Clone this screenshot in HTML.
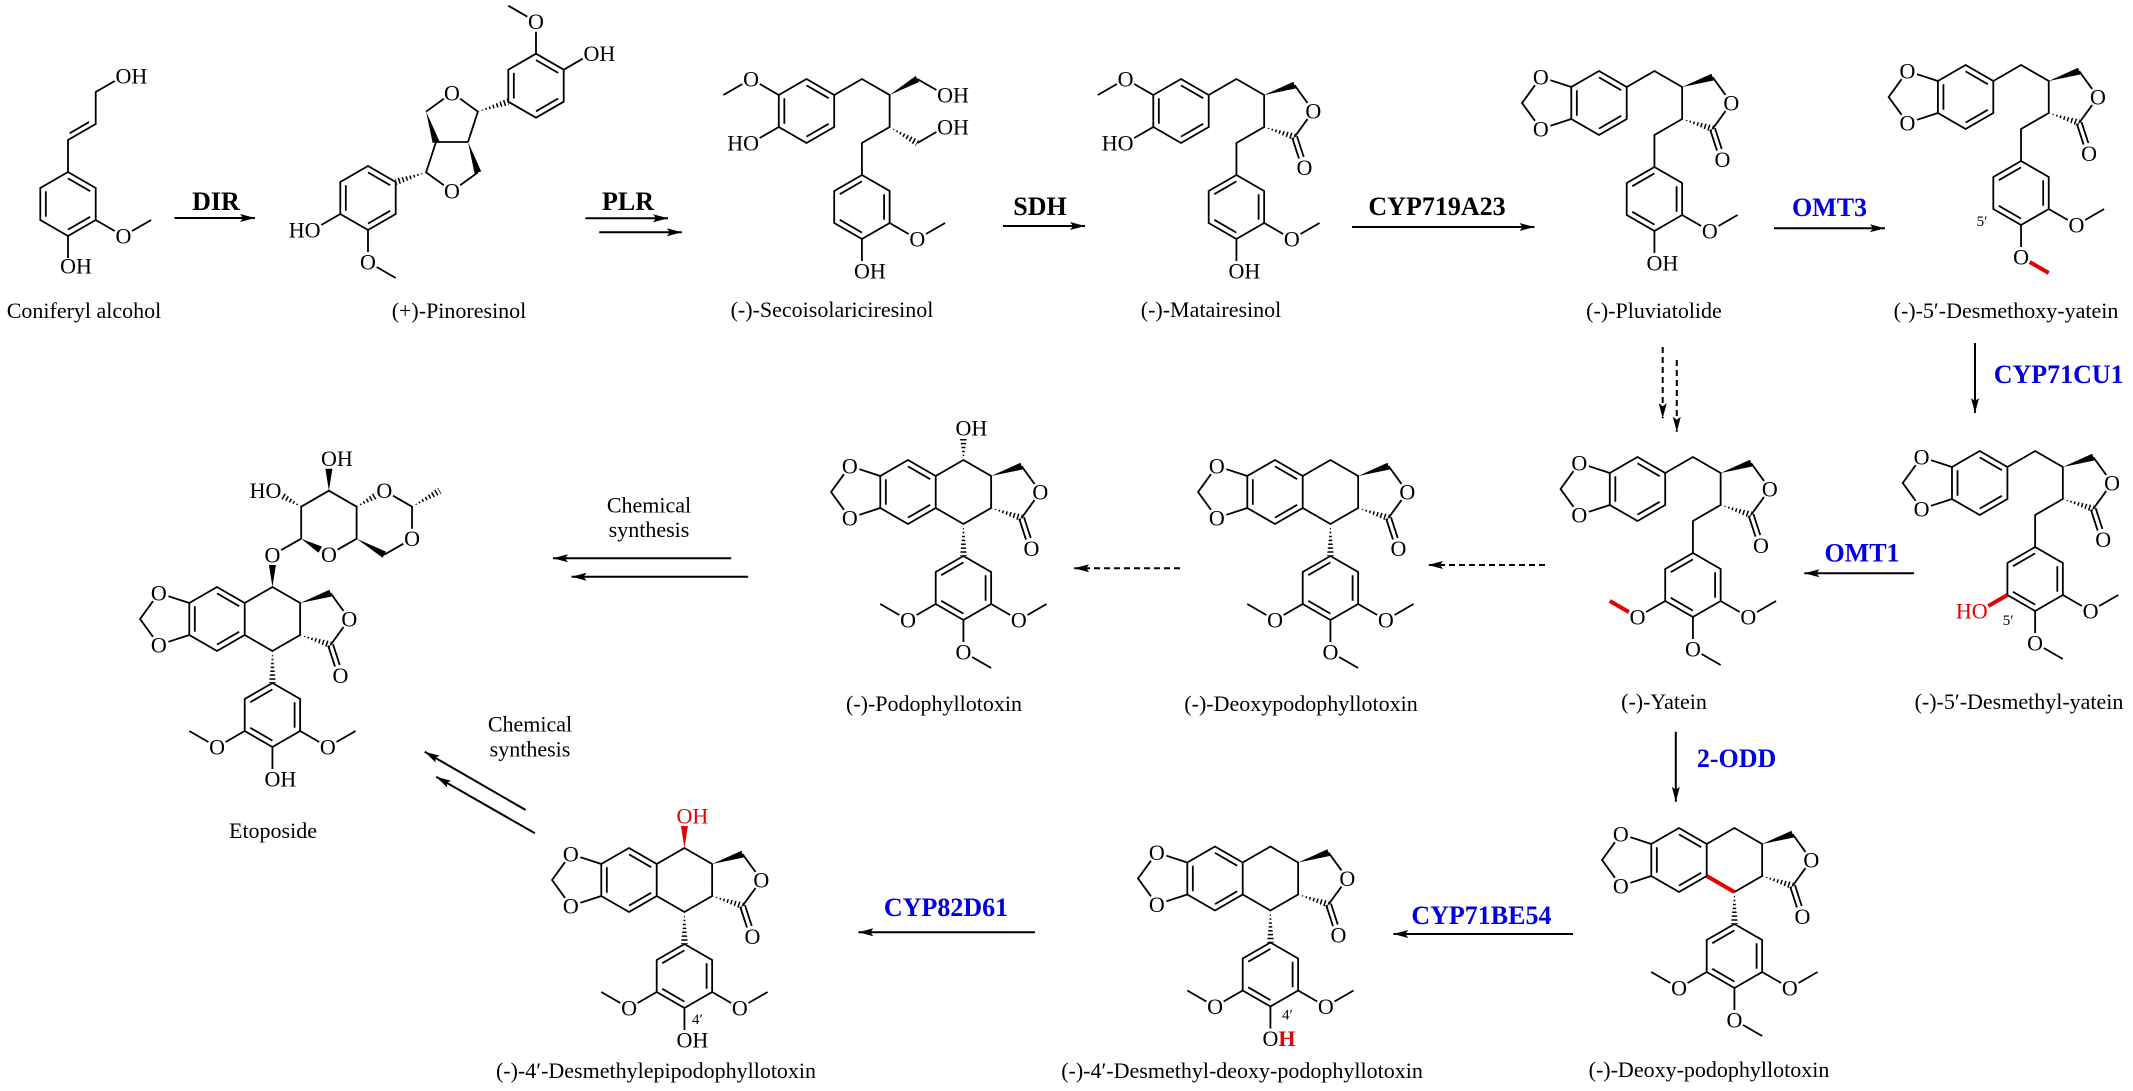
<!DOCTYPE html>
<html><head><meta charset="utf-8"><style>
html,body{margin:0;padding:0;background:#fff}
svg{display:block}
.b{stroke:#000;stroke-width:1.8;fill:none;stroke-linejoin:miter}
.r{stroke:#e60000;stroke-width:4;fill:none}
.h{stroke:#000;stroke-width:8;stroke-dasharray:1.5 2.4;fill:none}
.ar{stroke:#000;stroke-width:2;fill:none}
.ad{stroke:#000;stroke-width:2;fill:none;stroke-dasharray:6 4}
text{font-family:"Liberation Serif","Times New Roman",serif;font-size:22px;fill:#000}
.m{text-anchor:middle}
.e{text-anchor:end}
.en{font-weight:bold;font-size:26px}
.blue{fill:#0000e0}
.red{fill:#e60000}
.sm{font-size:15px}
</style></head><body>
<svg width="2133" height="1091" viewBox="0 0 2133 1091" xmlns="http://www.w3.org/2000/svg">
<defs>
<marker id="ah" markerUnits="userSpaceOnUse" markerWidth="16" markerHeight="10" refX="15" refY="4" orient="auto" overflow="visible"><path d="M0,0L15,4L0,8L3,4Z" fill="#000"/></marker>
<clipPath id="cL"><polygon points="83.14,16 112.49,29.22 114.65,22.56"/></clipPath>
<clipPath id="cV"><polygon points="55.43,32 51.93,64 58.93,64"/></clipPath>
<clipPath id="cO"><polygon points="55.43,-32 51.93,-54 58.93,-54"/></clipPath>
<clipPath id="cS"><polygon points="83.14,16 109.1,35.03 112.6,28.97"/></clipPath>
<clipPath id="cP1"><polygon points="426.1,172.4 396.79,185.33 394.63,178.67"/></clipPath>
<clipPath id="cP2"><polygon points="477.9,111.6 509.37,105.03 507.21,98.37"/></clipPath>
<clipPath id="cE1"><polygon points="139.61,-112.3 160.41,-120.27 156.91,-126.33"/></clipPath>
<clipPath id="cE2"><polygon points="195.03,-112.3 224.49,-125.27 220.99,-131.33"/></clipPath>
<clipPath id="cE3"><polygon points="84.19,-112.3 66.89,-126.33 63.39,-120.27"/></clipPath>
</defs>

<!-- ============ Coniferyl alcohol ============ -->
<path class="b" d="M68,172L95.71,188L95.71,220L68,236L40.29,220L40.29,188Z M68,178.4L90.17,191.2M45.83,191.2L45.83,216.8M90.17,216.8L68,229.6 M68,172L68,140L95.71,124L95.71,92L114.77,81 M69.66,133.27L89.05,122.07 M95.71,220L114.77,231M132.09,231L151.14,220 M68,236L68,258"/>
<text x="115.5" y="83.5">OH</text>
<text class="m" x="123.43" y="243.5">O</text>
<text x="60.1" y="273.5">OH</text>

<!-- ============ Pinoresinol ============ -->
<path class="b" d="M368,166L395.71,182L395.71,214L368,230L340.29,214L340.29,182Z M368,172.4L390.17,185.2M345.83,185.2L345.83,210.8M390.17,210.8L368,223.6 M340.29,214L321.24,225 M368,230L368,252M376.66,267L395.71,278"/>
<text class="e" x="320.5" y="237.5">HO</text><text class="m" x="368" y="269.5">O</text>
<path class="b" d="M436,142L468,142 M436,142L426.1,172.4L443.9,185.3M460.1,185.3L477.9,172.4 M426.1,111.6L443.9,98.7M460.1,98.7L477.9,111.6L468,142"/>
<polygon points="426.1,111.6 439.33,140.92 432.67,143.08"/>
<polygon points="468,142 481.23,171.32 474.57,173.48"/>
<line class="h" x1="426.1" y1="172.4" x2="395.71" y2="182" clip-path="url(#cP1)"/>
<line class="h" x1="477.9" y1="111.6" x2="508.29" y2="101.7" clip-path="url(#cP2)"/>
<text class="m" x="452" y="100.3">O</text><text class="m" x="452" y="198.7">O</text>
<path class="b" d="M536,53.7L563.71,69.7L563.71,101.7L536,117.7L508.29,101.7L508.29,69.7Z M536,60.1L558.17,72.9M513.83,72.9L513.83,98.5M558.17,98.5L536,111.3 M536,53.7L536,31.7M527.34,16.7L508.29,5.7 M563.71,69.7L582.76,58.7"/>
<text class="m" x="536" y="29.2">O</text><text x="583.5" y="61.2">OH</text>

<!-- ============ Secoisolariciresinol ============ -->
<g transform="translate(806.5,111)">
<path class="b" d="M0,-32L27.71,-16L27.71,16L0,32L-27.71,16L-27.71,-16Z M0,-25.6L22.17,-12.8M-22.17,-12.8L-22.17,12.8M22.17,12.8L0,25.6"/>
<path class="b" d="M-27.71,-16L-46.77,-27M-64.09,-27L-83.14,-16M-27.71,16L-46.77,27"/>
<text class="m" x="-55.43" y="-24.5">O</text><text class="e" x="-47.5" y="39.5">HO</text>
<path class="b" d="M27.71,-16L55.43,-32L83.14,-16L83.14,16L55.43,32L55.43,64"/>
<path class="b" d="M110.85,-32L129.9,-21M110.85,32L129.9,21"/>
<polygon points="83.14,-16 112.6,-28.97 109.1,-35.03"/>
<line class="h" x1="83.14" y1="16" x2="110.85" y2="32" clip-path="url(#cS)"/>
<text x="130.6" y="-8.5">OH</text><text x="130.6" y="23.5">OH</text>
<path class="b" d="M55.43,64L83.14,80L83.14,112L55.43,128L27.71,112L27.71,80Z M55.43,70.4L33.26,83.2M77.6,83.2L77.6,108.8M33.26,108.8L55.43,121.6"/>
<path class="b" d="M83.14,112L102.19,123M119.51,123L138.56,112"/><text class="m" x="110.85" y="135.5">O</text>
<path class="b" d="M55.43,128L55.43,150"/><text x="47.5" y="167.5">OH</text>
</g>

<!-- ============ Matairesinol ============ -->
<g transform="translate(1181,111)">
<path class="b" d="M0,-32L27.71,-16L27.71,16L0,32L-27.71,16L-27.71,-16Z M0,-25.6L22.17,-12.8M-22.17,-12.8L-22.17,12.8M22.17,12.8L0,25.6"/>
<path class="b" d="M-27.71,-16L-46.77,-27M-64.09,-27L-83.14,-16M-27.71,16L-46.77,27"/>
<text class="m" x="-55.43" y="-24.5">O</text><text class="e" x="-47.5" y="39.5">HO</text>
<path class="b" d="M27.71,-16L55.43,-32L83.14,-16L83.14,16L55.43,32L55.43,64"/>
<path class="b" d="M113.57,-25.89L126.5,-8.09M126.5,8.09L113.57,25.89M115.95,25.12L122.75,46.03M111.19,26.66L117.99,47.57"/>
<polygon points="83.14,-16 114.65,-22.56 112.49,-29.22"/>
<line class="h" x1="83.14" y1="16" x2="113.57" y2="25.89" clip-path="url(#cL)"/>
<text class="m" x="132.38" y="7.5">O</text><text class="m" x="123.46" y="63.8">O</text>
<path class="b" d="M55.43,64L83.14,80L83.14,112L55.43,128L27.71,112L27.71,80Z M55.43,70.4L33.26,83.2M77.6,83.2L77.6,108.8M33.26,108.8L55.43,121.6"/>
<path class="b" d="M83.14,112L102.19,123M119.51,123L138.56,112"/><text class="m" x="110.85" y="135.5">O</text>
<path class="b" d="M55.43,128L55.43,150"/><text x="47.5" y="167.5">OH</text>
</g>

<!-- ============ Pluviatolide ============ -->
<g transform="translate(1599,103)">
<path class="b" d="M0,-32L27.71,-16L27.71,16L0,32L-27.71,16L-27.71,-16Z M0,-25.6L22.17,-12.8M-22.17,-12.8L-22.17,12.8M22.17,12.8L0,25.6"/>
<path class="b" d="M-27.71,-16L-48.63,-22.8M-64.02,-17.8L-76.95,0L-64.02,17.8M-48.63,22.8L-27.71,16"/>
<text class="m" x="-58.14" y="-18.4">O</text><text class="m" x="-58.14" y="33.4">O</text>
<path class="b" d="M27.71,-16L55.43,-32L83.14,-16L83.14,16L55.43,32L55.43,64"/>
<path class="b" d="M113.57,-25.89L126.5,-8.09M126.5,8.09L113.57,25.89M115.95,25.12L122.75,46.03M111.19,26.66L117.99,47.57"/>
<polygon points="83.14,-16 114.65,-22.56 112.49,-29.22"/>
<line class="h" x1="83.14" y1="16" x2="113.57" y2="25.89" clip-path="url(#cL)"/>
<text class="m" x="132.38" y="7.5">O</text><text class="m" x="123.46" y="63.8">O</text>
<path class="b" d="M55.43,64L83.14,80L83.14,112L55.43,128L27.71,112L27.71,80Z M55.43,70.4L33.26,83.2M77.6,83.2L77.6,108.8M33.26,108.8L55.43,121.6"/>
<path class="b" d="M83.14,112L102.19,123M119.51,123L138.56,112"/><text class="m" x="110.85" y="135.5">O</text>
<path class="b" d="M55.43,128L55.43,150"/><text x="47.5" y="167.5">OH</text>
</g>

<!-- ============ 5'-Desmethoxy-yatein ============ -->
<g transform="translate(1965.6,97)">
<path class="b" d="M0,-32L27.71,-16L27.71,16L0,32L-27.71,16L-27.71,-16Z M0,-25.6L22.17,-12.8M-22.17,-12.8L-22.17,12.8M22.17,12.8L0,25.6"/>
<path class="b" d="M-27.71,-16L-48.63,-22.8M-64.02,-17.8L-76.95,0L-64.02,17.8M-48.63,22.8L-27.71,16"/>
<text class="m" x="-58.14" y="-18.4">O</text><text class="m" x="-58.14" y="33.4">O</text>
<path class="b" d="M27.71,-16L55.43,-32L83.14,-16L83.14,16L55.43,32L55.43,64"/>
<path class="b" d="M113.57,-25.89L126.5,-8.09M126.5,8.09L113.57,25.89M115.95,25.12L122.75,46.03M111.19,26.66L117.99,47.57"/>
<polygon points="83.14,-16 114.65,-22.56 112.49,-29.22"/>
<line class="h" x1="83.14" y1="16" x2="113.57" y2="25.89" clip-path="url(#cL)"/>
<text class="m" x="132.38" y="7.5">O</text><text class="m" x="123.46" y="63.8">O</text>
<path class="b" d="M55.43,64L83.14,80L83.14,112L55.43,128L27.71,112L27.71,80Z M55.43,70.4L33.26,83.2M77.6,83.2L77.6,108.8M33.26,108.8L55.43,121.6"/>
<path class="b" d="M83.14,112L102.19,123M119.51,123L138.56,112"/><text class="m" x="110.85" y="135.5">O</text>
<path class="b" d="M55.43,128L55.43,150"/><path class="r" d="M64.09,165L83.14,176"/><text class="m" x="55.43" y="167.5">O</text>
<text class="sm" x="11" y="129">5′</text>
</g>

<!-- ============ 5'-Desmethyl-yatein ============ -->
<g transform="translate(1979.7,483)">
<path class="b" d="M0,-32L27.71,-16L27.71,16L0,32L-27.71,16L-27.71,-16Z M0,-25.6L22.17,-12.8M-22.17,-12.8L-22.17,12.8M22.17,12.8L0,25.6"/>
<path class="b" d="M-27.71,-16L-48.63,-22.8M-64.02,-17.8L-76.95,0L-64.02,17.8M-48.63,22.8L-27.71,16"/>
<text class="m" x="-58.14" y="-18.4">O</text><text class="m" x="-58.14" y="33.4">O</text>
<path class="b" d="M27.71,-16L55.43,-32L83.14,-16L83.14,16L55.43,32L55.43,64"/>
<path class="b" d="M113.57,-25.89L126.5,-8.09M126.5,8.09L113.57,25.89M115.95,25.12L122.75,46.03M111.19,26.66L117.99,47.57"/>
<polygon points="83.14,-16 114.65,-22.56 112.49,-29.22"/>
<line class="h" x1="83.14" y1="16" x2="113.57" y2="25.89" clip-path="url(#cL)"/>
<text class="m" x="132.38" y="7.5">O</text><text class="m" x="123.46" y="63.8">O</text>
<path class="b" d="M55.43,64L83.14,80L83.14,112L55.43,128L27.71,112L27.71,80Z M55.43,70.4L33.26,83.2M77.6,83.2L77.6,108.8M33.26,108.8L55.43,121.6"/>
<path class="b" d="M83.14,112L102.19,123M119.51,123L138.56,112"/><text class="m" x="110.85" y="135.5">O</text>
<path class="b" d="M55.43,128L55.43,150M64.09,165L83.14,176"/><text class="m" x="55.43" y="167.5">O</text>
<path class="r" d="M27.71,112L8.66,123"/><text class="e red" x="7.9" y="135.5">HO</text>
<text class="sm" x="23" y="142">5′</text>
</g>

<!-- ============ Yatein ============ -->
<g transform="translate(1637.5,489)">
<path class="b" d="M0,-32L27.71,-16L27.71,16L0,32L-27.71,16L-27.71,-16Z M0,-25.6L22.17,-12.8M-22.17,-12.8L-22.17,12.8M22.17,12.8L0,25.6"/>
<path class="b" d="M-27.71,-16L-48.63,-22.8M-64.02,-17.8L-76.95,0L-64.02,17.8M-48.63,22.8L-27.71,16"/>
<text class="m" x="-58.14" y="-18.4">O</text><text class="m" x="-58.14" y="33.4">O</text>
<path class="b" d="M27.71,-16L55.43,-32L83.14,-16L83.14,16L55.43,32L55.43,64"/>
<path class="b" d="M113.57,-25.89L126.5,-8.09M126.5,8.09L113.57,25.89M115.95,25.12L122.75,46.03M111.19,26.66L117.99,47.57"/>
<polygon points="83.14,-16 114.65,-22.56 112.49,-29.22"/>
<line class="h" x1="83.14" y1="16" x2="113.57" y2="25.89" clip-path="url(#cL)"/>
<text class="m" x="132.38" y="7.5">O</text><text class="m" x="123.46" y="63.8">O</text>
<path class="b" d="M55.43,64L83.14,80L83.14,112L55.43,128L27.71,112L27.71,80Z M55.43,70.4L33.26,83.2M77.6,83.2L77.6,108.8M33.26,108.8L55.43,121.6"/>
<path class="b" d="M83.14,112L102.19,123M119.51,123L138.56,112"/><text class="m" x="110.85" y="135.5">O</text>
<path class="b" d="M55.43,128L55.43,150M64.09,165L83.14,176"/><text class="m" x="55.43" y="167.5">O</text>
<path class="b" d="M27.71,112L8.66,123"/><path class="r" d="M-8.66,123L-27.71,112"/><text class="m" x="0" y="135.5">O</text>
</g>

<!-- ============ Podophyllotoxin ============ -->
<g transform="translate(908,492)">
<path class="b" d="M0,-32L27.71,-16L27.71,16L0,32L-27.71,16L-27.71,-16Z M0,-25.6L22.17,-12.8M-22.17,-12.8L-22.17,12.8M22.17,12.8L0,25.6"/>
<path class="b" d="M-27.71,-16L-48.63,-22.8M-64.02,-17.8L-76.95,0L-64.02,17.8M-48.63,22.8L-27.71,16"/>
<text class="m" x="-58.14" y="-18.4">O</text><text class="m" x="-58.14" y="33.4">O</text>
<path class="b" d="M27.71,-16L55.43,-32L83.14,-16L83.14,16L55.43,32L27.71,16"/>
<line class="h" x1="55.43" y1="-32" x2="55.43" y2="-54" clip-path="url(#cO)"/><text x="47.5" y="-56.5">OH</text>
<path class="b" d="M113.57,-25.89L126.5,-8.09M126.5,8.09L113.57,25.89M115.95,25.12L122.75,46.03M111.19,26.66L117.99,47.57"/>
<polygon points="83.14,-16 114.65,-22.56 112.49,-29.22"/>
<line class="h" x1="83.14" y1="16" x2="113.57" y2="25.89" clip-path="url(#cL)"/>
<text class="m" x="132.38" y="7.5">O</text><text class="m" x="123.46" y="63.8">O</text>
<line class="h" x1="55.43" y1="32" x2="55.43" y2="64" clip-path="url(#cV)"/>
<path class="b" d="M55.43,64L83.14,80L83.14,112L55.43,128L27.71,112L27.71,80Z M55.43,70.4L33.26,83.2M77.6,83.2L77.6,108.8M33.26,108.8L55.43,121.6"/>
<path class="b" d="M83.14,112L102.19,123M119.51,123L138.56,112"/><text class="m" x="110.85" y="135.5">O</text>
<path class="b" d="M55.43,128L55.43,150M64.09,165L83.14,176"/><text class="m" x="55.43" y="167.5">O</text>
<path class="b" d="M27.71,112L8.66,123M-8.66,123L-27.71,112"/><text class="m" x="0" y="135.5">O</text>
</g>

<!-- ============ Deoxypodophyllotoxin (mid) ============ -->
<g transform="translate(1275,492)">
<path class="b" d="M0,-32L27.71,-16L27.71,16L0,32L-27.71,16L-27.71,-16Z M0,-25.6L22.17,-12.8M-22.17,-12.8L-22.17,12.8M22.17,12.8L0,25.6"/>
<path class="b" d="M-27.71,-16L-48.63,-22.8M-64.02,-17.8L-76.95,0L-64.02,17.8M-48.63,22.8L-27.71,16"/>
<text class="m" x="-58.14" y="-18.4">O</text><text class="m" x="-58.14" y="33.4">O</text>
<path class="b" d="M27.71,-16L55.43,-32L83.14,-16L83.14,16L55.43,32L27.71,16"/>
<path class="b" d="M113.57,-25.89L126.5,-8.09M126.5,8.09L113.57,25.89M115.95,25.12L122.75,46.03M111.19,26.66L117.99,47.57"/>
<polygon points="83.14,-16 114.65,-22.56 112.49,-29.22"/>
<line class="h" x1="83.14" y1="16" x2="113.57" y2="25.89" clip-path="url(#cL)"/>
<text class="m" x="132.38" y="7.5">O</text><text class="m" x="123.46" y="63.8">O</text>
<line class="h" x1="55.43" y1="32" x2="55.43" y2="64" clip-path="url(#cV)"/>
<path class="b" d="M55.43,64L83.14,80L83.14,112L55.43,128L27.71,112L27.71,80Z M55.43,70.4L33.26,83.2M77.6,83.2L77.6,108.8M33.26,108.8L55.43,121.6"/>
<path class="b" d="M83.14,112L102.19,123M119.51,123L138.56,112"/><text class="m" x="110.85" y="135.5">O</text>
<path class="b" d="M55.43,128L55.43,150M64.09,165L83.14,176"/><text class="m" x="55.43" y="167.5">O</text>
<path class="b" d="M27.71,112L8.66,123M-8.66,123L-27.71,112"/><text class="m" x="0" y="135.5">O</text>
</g>

<!-- ============ Deoxy-podophyllotoxin (bottom right) ============ -->
<g transform="translate(1679,860)">
<path class="b" d="M0,-32L27.71,-16L27.71,16L0,32L-27.71,16L-27.71,-16Z M0,-25.6L22.17,-12.8M-22.17,-12.8L-22.17,12.8M22.17,12.8L0,25.6"/>
<path class="b" d="M-27.71,-16L-48.63,-22.8M-64.02,-17.8L-76.95,0L-64.02,17.8M-48.63,22.8L-27.71,16"/>
<text class="m" x="-58.14" y="-18.4">O</text><text class="m" x="-58.14" y="33.4">O</text>
<path class="b" d="M27.71,-16L55.43,-32L83.14,-16L83.14,16L55.43,32"/>
<path class="r" d="M55.43,32L27.71,16"/>
<path class="b" d="M113.57,-25.89L126.5,-8.09M126.5,8.09L113.57,25.89M115.95,25.12L122.75,46.03M111.19,26.66L117.99,47.57"/>
<polygon points="83.14,-16 114.65,-22.56 112.49,-29.22"/>
<line class="h" x1="83.14" y1="16" x2="113.57" y2="25.89" clip-path="url(#cL)"/>
<text class="m" x="132.38" y="7.5">O</text><text class="m" x="123.46" y="63.8">O</text>
<line class="h" x1="55.43" y1="32" x2="55.43" y2="64" clip-path="url(#cV)"/>
<path class="b" d="M55.43,64L83.14,80L83.14,112L55.43,128L27.71,112L27.71,80Z M55.43,70.4L33.26,83.2M77.6,83.2L77.6,108.8M33.26,108.8L55.43,121.6"/>
<path class="b" d="M83.14,112L102.19,123M119.51,123L138.56,112"/><text class="m" x="110.85" y="135.5">O</text>
<path class="b" d="M55.43,128L55.43,150M64.09,165L83.14,176"/><text class="m" x="55.43" y="167.5">O</text>
<path class="b" d="M27.71,112L8.66,123M-8.66,123L-27.71,112"/><text class="m" x="0" y="135.5">O</text>
</g>

<!-- ============ 4'-Desmethyl-deoxy-podophyllotoxin ============ -->
<g transform="translate(1215,878.5)">
<path class="b" d="M0,-32L27.71,-16L27.71,16L0,32L-27.71,16L-27.71,-16Z M0,-25.6L22.17,-12.8M-22.17,-12.8L-22.17,12.8M22.17,12.8L0,25.6"/>
<path class="b" d="M-27.71,-16L-48.63,-22.8M-64.02,-17.8L-76.95,0L-64.02,17.8M-48.63,22.8L-27.71,16"/>
<text class="m" x="-58.14" y="-18.4">O</text><text class="m" x="-58.14" y="33.4">O</text>
<path class="b" d="M27.71,-16L55.43,-32L83.14,-16L83.14,16L55.43,32L27.71,16"/>
<path class="b" d="M113.57,-25.89L126.5,-8.09M126.5,8.09L113.57,25.89M115.95,25.12L122.75,46.03M111.19,26.66L117.99,47.57"/>
<polygon points="83.14,-16 114.65,-22.56 112.49,-29.22"/>
<line class="h" x1="83.14" y1="16" x2="113.57" y2="25.89" clip-path="url(#cL)"/>
<text class="m" x="132.38" y="7.5">O</text><text class="m" x="123.46" y="63.8">O</text>
<line class="h" x1="55.43" y1="32" x2="55.43" y2="64" clip-path="url(#cV)"/>
<path class="b" d="M55.43,64L83.14,80L83.14,112L55.43,128L27.71,112L27.71,80Z M55.43,70.4L33.26,83.2M77.6,83.2L77.6,108.8M33.26,108.8L55.43,121.6"/>
<path class="b" d="M83.14,112L102.19,123M119.51,123L138.56,112"/><text class="m" x="110.85" y="135.5">O</text>
<path class="b" d="M27.71,112L8.66,123M-8.66,123L-27.71,112"/><text class="m" x="0" y="135.5">O</text>
<path class="b" d="M55.43,128L55.43,150"/><text x="47.5" y="167.5">O<tspan class="red" font-weight="bold">H</tspan></text>
<text class="sm" x="67" y="141">4′</text>
</g>

<!-- ============ 4'-Desmethylepipodophyllotoxin ============ -->
<g transform="translate(629,880)">
<path class="b" d="M0,-32L27.71,-16L27.71,16L0,32L-27.71,16L-27.71,-16Z M0,-25.6L22.17,-12.8M-22.17,-12.8L-22.17,12.8M22.17,12.8L0,25.6"/>
<path class="b" d="M-27.71,-16L-48.63,-22.8M-64.02,-17.8L-76.95,0L-64.02,17.8M-48.63,22.8L-27.71,16"/>
<text class="m" x="-58.14" y="-18.4">O</text><text class="m" x="-58.14" y="33.4">O</text>
<path class="b" d="M27.71,-16L55.43,-32L83.14,-16L83.14,16L55.43,32L27.71,16"/>
<polygon points="55.43,-32 51.93,-54 58.93,-54" fill="#e60000"/>
<text class="red" x="47.5" y="-56.5">OH</text>
<path class="b" d="M113.57,-25.89L126.5,-8.09M126.5,8.09L113.57,25.89M115.95,25.12L122.75,46.03M111.19,26.66L117.99,47.57"/>
<polygon points="83.14,-16 114.65,-22.56 112.49,-29.22"/>
<line class="h" x1="83.14" y1="16" x2="113.57" y2="25.89" clip-path="url(#cL)"/>
<text class="m" x="132.38" y="7.5">O</text><text class="m" x="123.46" y="63.8">O</text>
<line class="h" x1="55.43" y1="32" x2="55.43" y2="64" clip-path="url(#cV)"/>
<path class="b" d="M55.43,64L83.14,80L83.14,112L55.43,128L27.71,112L27.71,80Z M55.43,70.4L33.26,83.2M77.6,83.2L77.6,108.8M33.26,108.8L55.43,121.6"/>
<path class="b" d="M83.14,112L102.19,123M119.51,123L138.56,112"/><text class="m" x="110.85" y="135.5">O</text>
<path class="b" d="M27.71,112L8.66,123M-8.66,123L-27.71,112"/><text class="m" x="0" y="135.5">O</text>
<path class="b" d="M55.43,128L55.43,150"/><text x="47.5" y="167.5">OH</text>
<text class="sm" x="63" y="144">4′</text>
</g>

<!-- ============ Etoposide ============ -->
<g transform="translate(217,619)">
<path class="b" d="M0,-32L27.71,-16L27.71,16L0,32L-27.71,16L-27.71,-16Z M0,-25.6L22.17,-12.8M-22.17,-12.8L-22.17,12.8M22.17,12.8L0,25.6"/>
<path class="b" d="M-27.71,-16L-48.63,-22.8M-64.02,-17.8L-76.95,0L-64.02,17.8M-48.63,22.8L-27.71,16"/>
<text class="m" x="-58.14" y="-18.4">O</text><text class="m" x="-58.14" y="33.4">O</text>
<path class="b" d="M27.71,-16L55.43,-32L83.14,-16L83.14,16L55.43,32L27.71,16"/>
<polygon points="55.43,-32 51.93,-54 58.93,-54"/>
<text class="m" x="55.43" y="-56.5">O</text>
<path class="b" d="M84.19,-80.3L84.19,-112.3L111.9,-128.3L139.61,-112.3L139.61,-80.3L120.56,-69.3 M64.13,-68.93L84.19,-80.3 M167.32,-64.3L186.37,-75.3 M195.03,-90.3L195.03,-112.3L175.98,-123.3"/>
<polygon points="84.19,-80.3 101.49,-66.27 104.99,-72.33"/>
<polygon points="139.61,-80.3 165.57,-61.27 169.07,-67.33"/>
<polygon points="111.9,-128.3 108.4,-150.3 115.4,-150.3"/>
<line class="h" x1="139.61" y1="-112.3" x2="158.66" y2="-123.3" clip-path="url(#cE1)"/>
<line class="h" x1="195.03" y1="-112.3" x2="222.74" y2="-128.3" clip-path="url(#cE2)"/>
<line class="h" x1="84.19" y1="-112.3" x2="65.14" y2="-123.3" clip-path="url(#cE3)"/>
<text class="m" x="111.9" y="-56.8">O</text>
<text class="m" x="167.32" y="-120.8">O</text>
<text class="m" x="195.03" y="-72.8">O</text>
<text x="104" y="-152.8">OH</text>
<text class="e" x="64.4" y="-120.8">HO</text>
<path class="b" d="M113.57,-25.89L126.5,-8.09M126.5,8.09L113.57,25.89M115.95,25.12L122.75,46.03M111.19,26.66L117.99,47.57"/>
<polygon points="83.14,-16 114.65,-22.56 112.49,-29.22"/>
<line class="h" x1="83.14" y1="16" x2="113.57" y2="25.89" clip-path="url(#cL)"/>
<text class="m" x="132.38" y="7.5">O</text><text class="m" x="123.46" y="63.8">O</text>
<line class="h" x1="55.43" y1="32" x2="55.43" y2="64" clip-path="url(#cV)"/>
<path class="b" d="M55.43,64L83.14,80L83.14,112L55.43,128L27.71,112L27.71,80Z M55.43,70.4L33.26,83.2M77.6,83.2L77.6,108.8M33.26,108.8L55.43,121.6"/>
<path class="b" d="M83.14,112L102.19,123M119.51,123L138.56,112"/><text class="m" x="110.85" y="135.5">O</text>
<path class="b" d="M27.71,112L8.66,123M-8.66,123L-27.71,112"/><text class="m" x="0" y="135.5">O</text>
<path class="b" d="M55.43,128L55.43,150"/><text x="47.5" y="167.5">OH</text>
</g>

<!-- ============ Arrows ============ -->
<line class="ar" x1="174.5" y1="218" x2="255" y2="218" marker-end="url(#ah)"/>
<line class="ar" x1="585.4" y1="218.3" x2="668" y2="218.3" marker-end="url(#ah)"/>
<line class="ar" x1="599.2" y1="232.3" x2="681.8" y2="232.3" marker-end="url(#ah)"/>
<line class="ar" x1="1003" y1="226" x2="1085" y2="226" marker-end="url(#ah)"/>
<line class="ar" x1="1352" y1="227" x2="1534.5" y2="227" marker-end="url(#ah)"/>
<line class="ar" x1="1774" y1="228.3" x2="1885" y2="228.3" marker-end="url(#ah)"/>
<line class="ar" x1="1975" y1="343" x2="1975" y2="413" marker-end="url(#ah)"/>
<line class="ar" x1="1914" y1="573.3" x2="1804.4" y2="573.3" marker-end="url(#ah)"/>
<line class="ad" x1="1662.7" y1="347" x2="1662.7" y2="418.3" marker-end="url(#ah)"/>
<line class="ad" x1="1676.8" y1="360" x2="1676.8" y2="431.7" marker-end="url(#ah)"/>
<line class="ad" x1="1545" y1="565" x2="1428" y2="565" marker-end="url(#ah)"/>
<line class="ad" x1="1180" y1="568.3" x2="1074.2" y2="568.3" marker-end="url(#ah)"/>
<line class="ar" x1="731.2" y1="558.3" x2="553" y2="558.3" marker-end="url(#ah)"/>
<line class="ar" x1="748.2" y1="576.7" x2="571.6" y2="576.7" marker-end="url(#ah)"/>
<line class="ar" x1="525.7" y1="810" x2="424.7" y2="751.7" marker-end="url(#ah)"/>
<line class="ar" x1="534.9" y1="833.3" x2="436.2" y2="776.7" marker-end="url(#ah)"/>
<line class="ar" x1="1675.8" y1="731.7" x2="1675.8" y2="801.7" marker-end="url(#ah)"/>
<line class="ar" x1="1573" y1="934" x2="1393.3" y2="934" marker-end="url(#ah)"/>
<line class="ar" x1="1035.1" y1="932.3" x2="858.4" y2="932.3" marker-end="url(#ah)"/>

<!-- ============ Arrow labels ============ -->
<text class="m en" x="216" y="210">DIR</text>
<text class="m en" x="628" y="210">PLR</text>
<text class="m en" x="1040" y="215">SDH</text>
<text class="m en" x="1437" y="215">CYP719A23</text>
<text class="m en blue" x="1829.5" y="216">OMT3</text>
<text class="m en blue" x="2058.7" y="383">CYP71CU1</text>
<text class="m en blue" x="1862" y="561.5">OMT1</text>
<text class="m en blue" x="1736.6" y="767">2-ODD</text>
<text class="m en blue" x="1481.4" y="924">CYP71BE54</text>
<text class="m en blue" x="946" y="916">CYP82D61</text>
<text class="m" x="649" y="512.5">Chemical</text>
<text class="m" x="649" y="537">synthesis</text>
<text class="m" x="530" y="731.5">Chemical</text>
<text class="m" x="530" y="756.5">synthesis</text>

<!-- ============ Compound names ============ -->
<text class="m" x="84" y="318">Coniferyl alcohol</text>
<text class="m" x="459" y="318">(+)-Pinoresinol</text>
<text class="m" x="832" y="317">(-)-Secoisolariciresinol</text>
<text class="m" x="1211" y="317">(-)-Matairesinol</text>
<text class="m" x="1654" y="318">(-)-Pluviatolide</text>
<text class="m" x="2006" y="318">(-)-5′-Desmethoxy-yatein</text>
<text class="m" x="2019" y="709">(-)-5′-Desmethyl-yatein</text>
<text class="m" x="1664" y="709">(-)-Yatein</text>
<text class="m" x="1301" y="711">(-)-Deoxypodophyllotoxin</text>
<text class="m" x="934" y="711">(-)-Podophyllotoxin</text>
<text class="m" x="273" y="838">Etoposide</text>
<text class="m" x="656" y="1078">(-)-4′-Desmethylepipodophyllotoxin</text>
<text class="m" x="1242" y="1078">(-)-4′-Desmethyl-deoxy-podophyllotoxin</text>
<text class="m" x="1709" y="1077">(-)-Deoxy-podophyllotoxin</text>
</svg>
</body></html>
